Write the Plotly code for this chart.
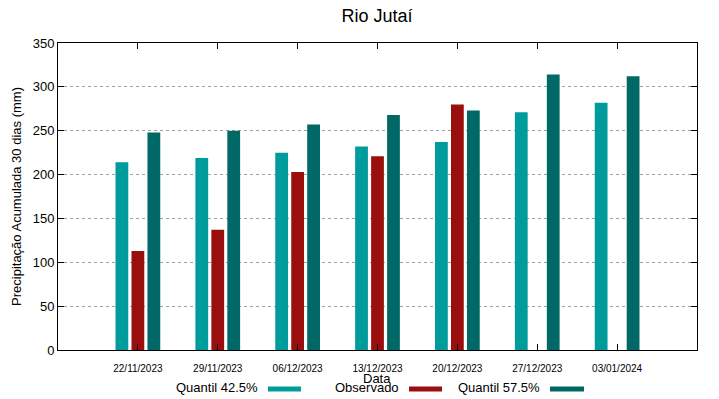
import plotly.graph_objects as go

# ---- data ----
dates = ["22/11/2023", "29/11/2023", "06/12/2023", "13/12/2023",
         "20/12/2023", "27/12/2023", "03/01/2024"]
q425 = [214, 219, 225, 232, 237, 271, 282]
observado = [113, 137, 203, 221, 280, None, None]
q575 = [248, 250, 257, 268, 273, 314, 312]
y_ticks = [0, 50, 100, 150, 200, 250, 300, 350]

series_names = ["Quantil 42.5%", "Observado", "Quantil 57.5%"]
series_values = [q425, observado, q575]
colors = ["#009b9b", "#9b0e0e", "#006866"]

FONT = "Liberation Sans, Arial, sans-serif"

fig = go.Figure()
for name, vals, col in zip(series_names, series_values, colors):
    fig.add_trace(go.Bar(x=list(range(len(dates))), y=vals, name=name,
                         marker=dict(color=col, line=dict(width=0)),
                         showlegend=False))

# page body has an 8px margin; figure is placed at (8, 8) in the window
OFF = 8
FW, FH = 719 - OFF, 399 - OFF
# plot area in window pixels: left 58, right 697, top 43, bottom 350
L, R, T, B = 58, 697, 43, 350
W, H = R - L, B - T


def px(x):
    return (x - L) / W


def py(y):
    return (B - y) / H


# manual gnuplot-style legend (text then swatch)
legend_items = [
    (series_names[0], 260, 268, 301),
    (series_names[1], 401, 409, 442),
    (series_names[2], 542, 550, 584),
]
annotations = []
shapes = []
for (name, tx, s0, s1), col in zip(legend_items, colors):
    annotations.append(dict(text=name, x=px(tx), y=py(387), xref="paper", yref="paper",
                            xanchor="right", yanchor="middle", showarrow=False,
                            font=dict(size=13, color="#000", family=FONT)))
    shapes.append(dict(type="rect", xref="paper", yref="paper",
                       x0=px(s0), x1=px(s1), y0=py(391.5), y1=py(386.5),
                       fillcolor=col, line=dict(width=0)))

annotations.append(dict(text="Data", x=px(377), y=py(378), xref="paper", yref="paper",
                        xanchor="center", yanchor="middle", showarrow=False,
                        font=dict(size=13, color="#000", family=FONT)))

fig.update_layout(
    width=FW, height=FH,
    margin=dict(l=L - OFF, r=719 - R, t=T - OFF, b=399 - B, autoexpand=False),
    paper_bgcolor="white", plot_bgcolor="white",
    barmode="group", bargap=0.4, bargroupgap=0.2,
    title=dict(text="Rio Jutaí", x=px(377), xref="paper", xanchor="center",
               y=1 - (16 - OFF) / FH, yanchor="middle",
               font=dict(size=18, color="#000", family=FONT)),
    font=dict(family=FONT, color="#000"),
    annotations=annotations,
    shapes=shapes,
    showlegend=False,
)
fig.update_xaxes(
    range=[-1, 7], tickmode="array", tickvals=list(range(len(dates))), ticktext=dates,
    ticks="inside", ticklen=6, tickcolor="#000", mirror="allticks",
    showline=True, linecolor="#000", linewidth=1, showgrid=False, zeroline=False,
    tickfont=dict(size=10, color="#000", family=FONT), automargin=False,
    ticklabelstandoff=9,
)
fig.update_yaxes(
    range=[0, 350], tickmode="array", tickvals=y_ticks,
    ticks="inside", ticklen=6, tickcolor="#000", mirror="allticks",
    showline=True, linecolor="#000", linewidth=1, zeroline=False,
    showgrid=True, gridcolor="#a0a0a0", griddash="dot", gridwidth=1,
    tickfont=dict(size=13, color="#000", family=FONT), automargin=False,
    title=dict(text="Precipitação Acumulada 30 dias (mm)", standoff=8,
               font=dict(size=13, color="#000", family=FONT)),
)

fig.write_html("out.html")
